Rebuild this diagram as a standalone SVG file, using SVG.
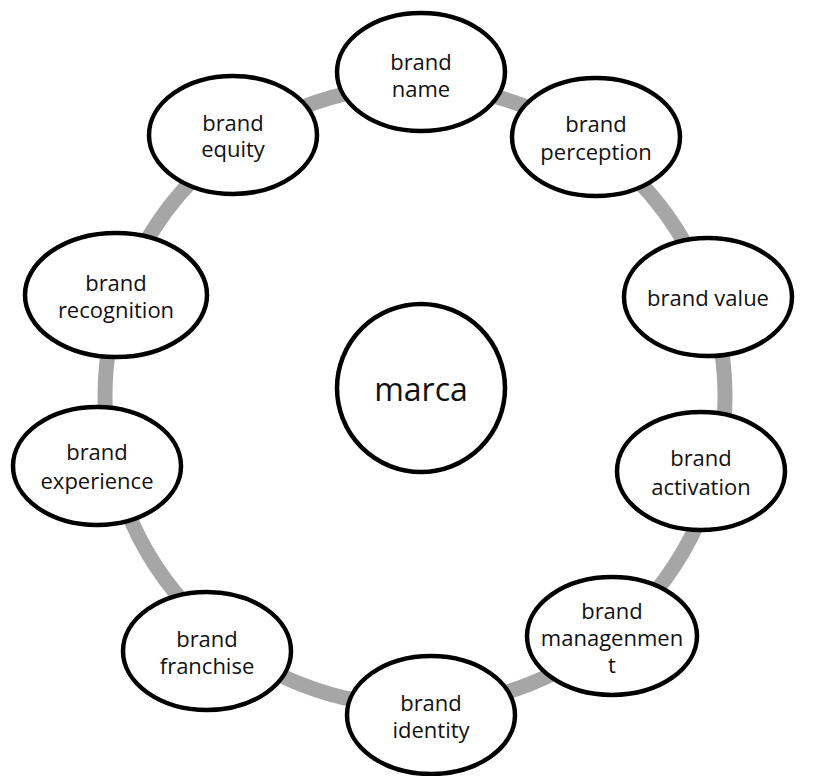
<svg xmlns="http://www.w3.org/2000/svg" width="819" height="776" viewBox="0 0 819 776">
  <style>
    .node ellipse, .node circle { fill: #ffffff; stroke: #000000; stroke-width: 4.5; }
    .lbl { font-family: "Open Sans", "Noto Sans", sans-serif; font-size: 22px; fill: #111111; text-anchor: middle; dominant-baseline: central; }
    .big { font-size: 32px; }
    .ring { fill: none; stroke: #a6a6a6; stroke-width: 15; }
  </style>
  <rect width="819" height="776" fill="#ffffff"/>

  <!-- cycle ring linking the outer nodes -->
  <g id="connectors">
    <circle class="ring" cx="415" cy="396" r="310"/>
  </g>

  <g id="node-marca" class="node">
    <circle cx="421" cy="388" r="84"/>
    <text class="lbl big" x="421" y="388">marca</text>
  </g>

  <g id="node-name" class="node">
    <ellipse cx="421" cy="72" rx="84" ry="59"/>
    <text class="lbl" x="421" y="61">brand</text>
    <text class="lbl" x="421" y="88">name</text>
  </g>

  <g id="node-perception" class="node">
    <ellipse cx="596" cy="137" rx="84" ry="59"/>
    <text class="lbl" x="596" y="123">brand</text>
    <text class="lbl" x="596" y="151">perception</text>
  </g>

  <g id="node-value" class="node">
    <ellipse cx="708" cy="297" rx="84" ry="59"/>
    <text class="lbl" x="708" y="297">brand value</text>
  </g>

  <g id="node-activation" class="node">
    <ellipse cx="701" cy="471" rx="84" ry="59"/>
    <text class="lbl" x="701" y="457">brand</text>
    <text class="lbl" x="701" y="486">activation</text>
  </g>

  <g id="node-management" class="node">
    <ellipse cx="612" cy="636" rx="85" ry="59"/>
    <text class="lbl" x="612" y="610">brand</text>
    <text class="lbl" x="612" y="637">managenmen</text>
    <text class="lbl" x="612" y="664">t</text>
  </g>

  <g id="node-identity" class="node">
    <ellipse cx="431" cy="715" rx="84" ry="59"/>
    <text class="lbl" x="431" y="702">brand</text>
    <text class="lbl" x="431" y="729">identity</text>
  </g>

  <g id="node-franchise" class="node">
    <ellipse cx="207" cy="651" rx="84" ry="59"/>
    <text class="lbl" x="207" y="638">brand</text>
    <text class="lbl" x="207" y="665">franchise</text>
  </g>

  <g id="node-experience" class="node">
    <ellipse cx="97" cy="466" rx="84" ry="59"/>
    <text class="lbl" x="97" y="451">brand</text>
    <text class="lbl" x="97" y="480">experience</text>
  </g>

  <g id="node-recognition" class="node">
    <ellipse cx="116" cy="295" rx="91" ry="62"/>
    <text class="lbl" x="116" y="282">brand</text>
    <text class="lbl" x="116" y="309">recognition</text>
  </g>

  <g id="node-equity" class="node">
    <ellipse cx="233" cy="135" rx="84" ry="59"/>
    <text class="lbl" x="233" y="122">brand</text>
    <text class="lbl" x="233" y="148">equity</text>
  </g>
</svg>
